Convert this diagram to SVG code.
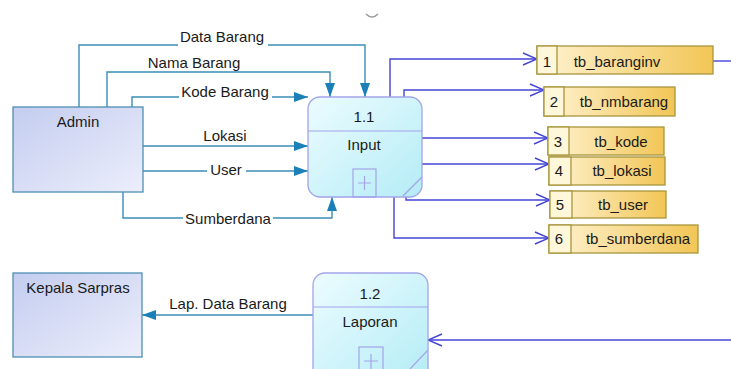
<svg xmlns="http://www.w3.org/2000/svg" width="731" height="369" viewBox="0 0 731 369">
  <defs>
    <linearGradient id="entityFill" x1="0" y1="0" x2="1" y2="1">
      <stop offset="0" stop-color="#c4cdf0"/>
      <stop offset="1" stop-color="#eceefb"/>
    </linearGradient>
    <linearGradient id="processFill" x1="0" y1="0" x2="1" y2="1">
      <stop offset="0" stop-color="#ecfcff"/>
      <stop offset="1" stop-color="#b4ecf6"/>
    </linearGradient>
    <linearGradient id="storeFill" x1="0" y1="0" x2="1" y2="0">
      <stop offset="0" stop-color="#fff3d2"/>
      <stop offset="1" stop-color="#f2c656"/>
    </linearGradient>
    <marker id="solidArrow" viewBox="0 0 14 10" refX="14" refY="5" markerWidth="14" markerHeight="10" markerUnits="userSpaceOnUse" orient="auto">
      <path d="M0,0 L14,5 L0,10 Z" fill="#1c80b8"/>
    </marker>
    <marker id="openArrow" viewBox="0 0 16 14" refX="15" refY="7" markerWidth="16" markerHeight="14" markerUnits="userSpaceOnUse" orient="auto">
      <path d="M1,1 L15,7 L1,13" fill="none" stroke="#4444d8" stroke-width="1.4"/>
    </marker>
  </defs>
  <style>
    text { font-family: "Liberation Sans", Arial, sans-serif; font-size: 15px; fill: #1a1a1a; }
    .mid { text-anchor: middle; }
    .entity { fill: url(#entityFill); stroke: #4f8fb3; stroke-width: 1.3; }
    .process { fill: url(#processFill); stroke: #a4a4ea; stroke-width: 1.3; }
    .pline { stroke: #a4a4ea; stroke-width: 1.2; fill: none; }
    .store { fill: url(#storeFill); stroke: #a8963c; stroke-width: 1.3; }
    .storenum { fill: #fff7da; stroke: #a8963c; stroke-width: 1.3; }
    .flow { fill: none; stroke: #3a8db6; stroke-width: 1.4; marker-end: url(#solidArrow); }
    .dflow { fill: none; stroke: #4444d8; stroke-width: 1.4; marker-end: url(#openArrow); }
    .lbg { fill: #ffffff; }
  </style>

  <!-- small arc at top -->
  <path d="M366,14 Q372,20 378,14" fill="none" stroke="#9a9a9a" stroke-width="1.6"/>

  <!-- connectors -->
  <g id="connectors">
    <!-- Admin to 1.1 -->
    <path class="flow" d="M79,107 V45 H365 V97"/>
    <path class="flow" d="M107,107 V72 H330 V97"/>
    <path class="flow" d="M132,107 V97 H308"/>
    <path class="flow" d="M143,146 H308"/>
    <path class="flow" d="M143,171 H308"/>
    <path class="flow" d="M123,192 V218 H332 V197"/>
    <!-- 1.2 to Kepala Sarpras -->
    <path class="flow" d="M313,315 H142"/>
    <!-- 1.1 to data stores -->
    <path class="dflow" d="M390,97 V59 H537"/>
    <path class="dflow" d="M404,97 V90 H544"/>
    <path class="dflow" d="M422,138 H548"/>
    <path class="dflow" d="M422,164 H549"/>
    <path class="dflow" d="M406,195 V200 H550"/>
    <path class="dflow" d="M394,197 V238 H549"/>
    <!-- tb_baranginv out / into 1.2 -->
    <path d="M713,61 H731" fill="none" stroke="#4444d8" stroke-width="1.4"/>
    <path class="dflow" d="M731,340 H428"/>

    <!-- flow labels -->
    <rect class="lbg" x="178" y="30" width="90" height="20"/>
    <text x="222" y="42" class="mid">Data Barang</text>
    <text x="194" y="68" class="mid">Nama Barang</text>
    <rect class="lbg" x="179" y="84" width="93" height="20"/>
    <text x="225" y="97" class="mid">Kode Barang</text>
    <text x="225" y="141" class="mid">Lokasi</text>
    <rect class="lbg" x="207" y="161" width="39" height="20"/>
    <text x="226" y="175" class="mid">User</text>
    <rect class="lbg" x="183" y="209" width="90" height="20"/>
    <text x="228" y="224" class="mid">Sumberdana</text>
    <text x="228" y="309" class="mid">Lap. Data Barang</text>
  </g>

  <!-- external entities -->
  <g id="admin">
    <rect class="entity" x="13" y="107" width="130" height="85"/>
    <text x="78" y="127" class="mid">Admin</text>
  </g>
  <g id="kepala-sarpras">
    <rect class="entity" x="13" y="273" width="129" height="84"/>
    <text x="78" y="293" class="mid">Kepala Sarpras</text>
  </g>

  <!-- processes -->
  <g id="process-1-1">
    <rect class="process" x="308" y="97" width="114" height="100" rx="12" ry="12"/>
    <line class="pline" x1="308" y1="131" x2="422" y2="131"/>
    <rect class="pline" x="353" y="169" width="23" height="28"/>
    <path class="pline" d="M358,183 H371 M364.5,176 V190"/>
    <line class="pline" x1="422" y1="177" x2="403" y2="196"/>
    <text x="364" y="122" class="mid">1.1</text>
    <text x="364" y="150" class="mid">Input</text>
  </g>
  <g id="process-1-2">
    <rect class="process" x="313" y="273" width="115" height="110" rx="12" ry="12"/>
    <line class="pline" x1="313" y1="307" x2="428" y2="307"/>
    <rect class="pline" x="359" y="347" width="24" height="30"/>
    <path class="pline" d="M364,361 H378 M371,354 V369"/>
    <line class="pline" x1="428" y1="350" x2="410" y2="369"/>
    <text x="370" y="299" class="mid">1.2</text>
    <text x="370" y="327" class="mid">Laporan</text>
  </g>

  <!-- data stores -->
  <g id="store-1">
    <rect class="store" x="537" y="46" width="176" height="28"/>
    <rect class="storenum" x="537" y="46" width="20" height="28"/>
    <text x="547" y="67" class="mid">1</text>
    <text x="617" y="67" class="mid">tb_baranginv</text>
  </g>
  <g id="store-2">
    <rect class="store" x="544" y="87" width="131" height="29"/>
    <rect class="storenum" x="544" y="87" width="20" height="29"/>
    <text x="554" y="107" class="mid">2</text>
    <text x="624" y="107" class="mid">tb_nmbarang</text>
  </g>
  <g id="store-3">
    <rect class="store" x="548" y="127" width="116" height="28"/>
    <rect class="storenum" x="548" y="127" width="21" height="28"/>
    <text x="558" y="147" class="mid">3</text>
    <text x="621" y="147" class="mid">tb_kode</text>
  </g>
  <g id="store-4">
    <rect class="store" x="549" y="157" width="116" height="28"/>
    <rect class="storenum" x="549" y="157" width="22" height="28"/>
    <text x="559" y="176" class="mid">4</text>
    <text x="622" y="176" class="mid">tb_lokasi</text>
  </g>
  <g id="store-5">
    <rect class="store" x="550" y="191" width="116" height="27"/>
    <rect class="storenum" x="550" y="191" width="22" height="27"/>
    <text x="560" y="210" class="mid">5</text>
    <text x="623" y="210" class="mid">tb_user</text>
  </g>
  <g id="store-6">
    <rect class="store" x="549" y="225" width="149" height="28"/>
    <rect class="storenum" x="549" y="225" width="22" height="28"/>
    <text x="559" y="244" class="mid">6</text>
    <text x="638" y="244" class="mid">tb_sumberdana</text>
  </g>
</svg>
